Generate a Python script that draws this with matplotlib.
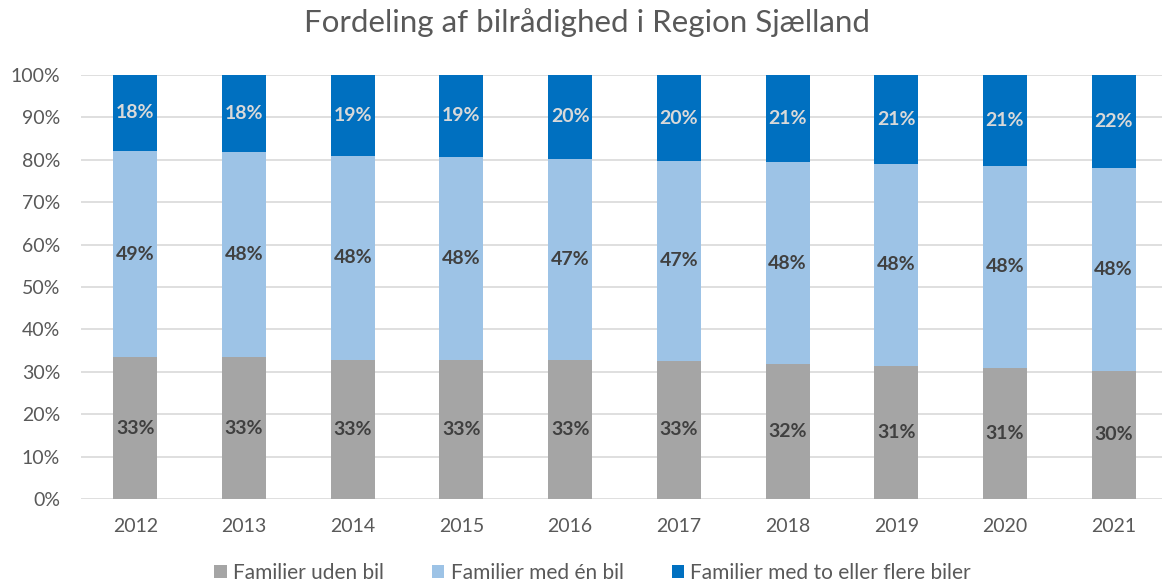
import numpy as np
import matplotlib
matplotlib.use("Agg")
import matplotlib.pyplot as plt
from matplotlib.patches import Patch

years = ["2012", "2013", "2014", "2015", "2016", "2017", "2018", "2019", "2020", "2021"]
uden_bil = [33.4, 33.4, 32.8, 32.8, 32.9, 32.6, 31.8, 31.4, 30.9, 30.2]
en_bil = [48.7, 48.4, 48.1, 47.9, 47.4, 47.1, 47.6, 47.6, 47.7, 47.9]
flere_biler = [17.9, 18.2, 19.1, 19.3, 19.7, 20.3, 20.6, 21.0, 21.4, 21.9]

series_names = ["Familier uden bil", "Familier med én bil", "Familier med to eller flere biler"]
colors = ["#A5A5A5", "#9DC3E6", "#0070C0"]
label_colors = ["#404040", "#404040", "#D9D9D9"]

plt.rcParams['font.family'] = ['Lato', 'DejaVu Sans']

fig = plt.figure(figsize=(11.62, 5.86), dpi=100)
ax = fig.add_axes([81 / 1162, 87 / 586, 1087 / 1162, 424 / 586])

x = np.arange(len(years))
bottom = np.zeros(len(years))
for vals, col, lcol in zip([uden_bil, en_bil, flere_biler], colors, label_colors):
    vals = np.array(vals)
    ax.bar(x, vals, width=0.405, bottom=bottom, color=col, zorder=3)
    for xi, b, v in zip(x, bottom, vals):
        ax.text(xi, b + v / 2, f"{v:.0f}%", ha="center", va="center",
                fontsize=14, fontweight="bold", color=lcol, zorder=4)
    bottom += vals

ax.set_xlim(-0.5, len(years) - 0.5)
ax.set_ylim(0, 100)
ax.set_yticks(np.arange(0, 101, 10))
ax.set_yticklabels([f"{t}%" for t in range(0, 101, 10)])
ax.set_xticks(x)
ax.set_xticklabels(years)
ax.tick_params(axis="both", length=0, labelsize=14, labelcolor="#595959")
ax.tick_params(axis="y", pad=15)
ax.tick_params(axis="x", pad=14)
ax.grid(axis="y", color="#D9D9D9", linewidth=1.2, zorder=0)
for s in ax.spines.values():
    s.set_visible(False)

fig.text(0.505, 0.962, "Fordeling af bilrådighed i Region Sjælland", ha="center", va="center",
         fontsize=22.5, color="#595959")

handles = [Patch(facecolor=c, edgecolor="none") for c in colors]
fig.legend(handles, series_names, loc="center", bbox_to_anchor=(0.51, 0.022), ncol=3,
           frameon=False, fontsize=15, labelcolor="#595959", handlelength=0.6, handleheight=0.6,
           handletextpad=0.3, columnspacing=2.3, borderpad=0.1)

fig.savefig("out.png", dpi=100)
